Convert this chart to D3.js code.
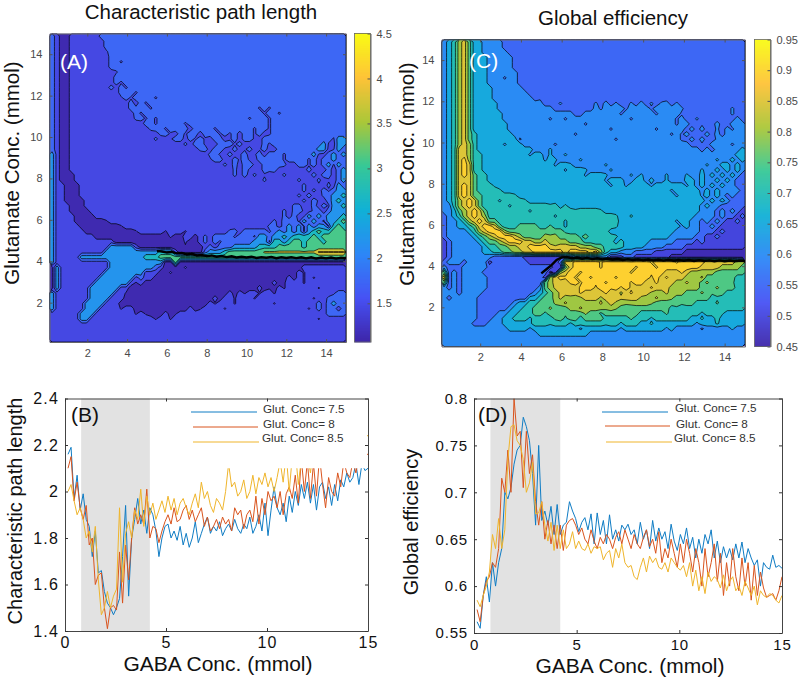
<!DOCTYPE html>
<html><head><meta charset="utf-8">
<script src="https://d3js.org/d3.v7.min.js"></script>
<style>html,body{margin:0;padding:0;background:#fff}svg{display:block}text{font-family:"Liberation Sans",Arial,sans-serif}</style>
</head><body><svg id="c" width="800" height="681"></svg>
<script>
// ---------- data ----------
const gridTicks = [2,4,6,8,10,12,14];
const pathBarTicks = [1.5,2,2.5,3,3.5,4,4.5];
const effBarTicks = [0.45,0.5,0.55,0.6,0.65,0.7,0.75,0.8,0.85,0.9,0.95];
const pathLevels = [1.12,1.45,1.75,2.2,2.7,3.1,3.75,4.0];
const pathSpecks = [1.55,1.68,1.25,1.33,2.05,3.5,3.95];               // codes a..g
const effLevels = [0.46,0.5,0.55,0.6,0.65,0.7,0.75,0.8,0.85,0.895];
const effSpecks = [.565,.585,.615,.635,.665,.685,.765,.785,.815,.835,.865,.88,.51,.54,.715,.735]; // codes a..p
const parulaStops = ["#3e26a8","#4752f4","#2d87f7","#11b1d6","#37c897","#abc739","#fec338","#f9fb15"];
// rows from Glutamate 15 down to 0.1, columns GABA 0.1 to 15, digits index the levels, letters the specks
const pathGrid = [
"2100111111 2","2100111111 12","2100111111 12","2100111111 1a2","2100111111 112","2100111111 1122a2",
"2100111111 11222","2100111111 111a2","2100111111 1112","2100111111 1112a2","2100111111 11212a2","2100111111 1111222a2",
"2100111111 1111a2a222 2a2",
"2100111111 111111212a 2222222222 2222222222 222",
"2100111111 1111112b22 a222222222 2222222222 22a2a22",
"2100111111 11111112a2 2222222222 2222222222 222a22a2",
"2100111111 1111111b2a 2a22222222 2222222222 a222a222",
"2100111111 1111111112 2a22222a22 2222222222 2222a2",
"2100111111 1111111111 b22a222212 222a222222 2a22a22",
"2100111111 1111111111 11b2a12a22 1222a2a212 2a21a22",
"2100111111 1111111111 1b11a2212a 2a1221a212 2a12222222 2222222a33",
"2100111111 1111111111 1111111b12 2a11222a21 1a12a22222 222223a133",
"2100111111 1111111111 1111111111 b2122a121a 21a2112222 2222331a32",
"3100111111 1111111111 1111111111 11b2a121a2 1a21222a22 2223a12323",
"3100111111 1111111111 1111111111 11a22112a2 a122222a22 22a2122322",
"3100111111 1111111111 1111111111 11111b1212 2a12222b11 22a2123a32",
"3100111111 1111111111 1111111111 1111111b12 a112b21111 1121a12123",
"3100011111 1111111111 1111111111 1111111b12 1b1a111b11 1a12122123",
"3100011111 1111111111 1111111111 1111111111 111b111111 b1a1b1a123",
"3110001111 1111111111 1111111111 1111111111 1111111111 1b11a1b132",
"3110001111 1111111111 1111111111 1111111111 1111111111 1b1b12a233",
"3110001111 1111111111 1111111111 1111111111 1111111111 b1211b2334",
"3110000111 1111111111 1111111111 1111111111 1111111111 1b12a12343",
"3111000111 1111111111 1111111111 1111111111 111111111b b11212a334",
"3111000011 1111111111 1111111111 1111111111 1111111b1b 2a1b212333",
"3111100001 1111111111 1111111111 1111111111 1111111b12 1a32323334",
"3111100000 0c11111111 1111111111 1111111111 11111b1222 a3232a3345",
"3111110000 0000c11111 1111111111 1111111111 1111b21232 3a3233a454",
"3111111000 0000000c11 111c111c11 111111b212 2222a23232 3a34544555",
"3111111110 0000000000 0000d00110 1b12222a22 2a33233434 4445455555",
"3111111111 1110000000 0000000d00 1b12a22222 2333a44345 5455545555",
"3111111111 1133333100 0000000c00 0121222333 3344445555 5455555555",
"3111111111 1333333333 3344410000 0233345555 555fffffff ffffgggggg",
"3111113333 3333333334 4455555555 5555555555 5555555555 5555555555",
"3111111111 1133333333 3330050000 0000000000 0000000000 0000000000",
"0311111111 1133333333 3210000d00 0000000000 0000000000 0111111111",
"0311111111 1333333331 1100d00000 0000000000 0000000000 1c11111111",
"0311111111 3333333121 10c0000000 0000000000 000000c010 1c1c111111",
"0311111113 3333331c10 0000000000 0000000000 0000010c11 1c11111111",
"0311111133 3333110c00 0000000000 0000000000 0010c01c11 1111c11111",
"3111111133 33311c0000 0000000000 000000101c 11c11c1111 1111111a22",
"3111111133 3311100000 0000000000 0c01011c11 1c11111111 111c11b222",
"3111111333 3111000000 0000000000 001c111c11 11111c1111 1111212322",
"3111111333 1111c11000 0000000010 c1111c1111 1111111111 11c1212212",
"1111113331 1111111c1c 00010c1111 1111111111 1111111111 1111112222",
"1111113311 1111111111 1c11c11111 1111111111 1111111111 1111c11111",
"1111111111 1","1111111111 1","1111111111 1","1111111111 1"
];
const effGrid = [
"345786 44 3333 2","345786 44 3333 2","345786 44 33333 2a2","345786 444 33333 2","345786 444 33333 2a2","345786 444 33333 2",
"345786 444 333333 2","345786 444 333a33 2a2","345786 444 333333 2","345786 4444 333333 2","345786 4444 3333333 2a2","345786 4444 33333333 2a2",
"3457864444 4333333333 222b222222 b232b22b23 2b2b32b222 2222222222",
"3457864444 4333333333 3322222222 3a3333a333 3a33333b22 2222222b22",
"3457864444 4433333333 3333332233 33333a3333 33a3333a22 2222222b22",
"3457864444 4433333333 3a33a33333 3333333a33 333333a322 b222222232",
"3457864444 4443333333 33333333a3 3333333333 333333a332 2a22322333",
"3457864444 4443333333 3333333333 333a333333 33a3333323 2322b23a33",
"3457865444 4444333333 333333a333 3333333333 33333a3a32 2232323333",
"3457865444 4d444a3333 3333333333 3333a33333 3333333a23 2322b33333",
"3457875444 44c4443333 33a3333333 3333333333 3333333332 2a23333a33",
"3458875444 4444d44433 3d33333333 3333333333 3333333333 3232333334",
"3458875544 4444444c44 3d33d33333 3333333333 3333333333 3333333344",
"3458975544 4444444444 c4d3333d33 3333333333 3333333333 3333d33434",
"3458985544 4444444444 44c44d3333 33d3333333 3333333333 33d3344343",
"3458985544 4444444444 4444c444d3 333d333333 3333333333 3d33434343",
"3458986554 4444444444 44444444c4 44d3333d3d 3333d333d3 3434343432",
"3458886554 4444444444 4444444444 44c4443344 3433d33344 3433434322",
"3458986555 e444444444 4444444444 444c44c444 4c444444c4 3434343322",
"3458986555 5f44444444 4444444444 4444444444 44444c4444 4343433c32",
"3458986655 5555f44444 4444444444 4444444444 444444c444 4c43432322",
"3457898655 5e5555f444 4444444444 4444444444 4444444444 4434343222",
"3357898655 555e555555 5f54f44444 4444444444 4444444444 4343322222",
"3346789865 5555555e55 555555f555 5f44444444 4444444444 4333232321",
"2345789875 5555555555 55e5555555 5555f44f44 4444444444 3333232212",
"2334578986 6555555555 5555e55555 55f5544444 444444c443 3232321121",
"2334456899 8655566665 5p55e55555 5555f44444 4444444c43 3223211111",
"2333345789 9976666666 6666o55555 5f54444444 4444443333 3222121111",
"2333334567 8999876666 7h76666o65 5555f44444 4444433333 2211211111",
"1233333456 6789998877 87h7766655 55f5454444 4333332222 1211111111",
"1233333345 5667788999 98j8888777 6655554444 3333222211 1111111111",
"1233333344 5566778899 9999899998 9754433322 2211111100 0000000000",
"1233333333 2222221111 1111223333 3331112211 1111100000 0000000000",
"2333233331 2222222111 1112889999 9k99999l99 9k9999k999 9988888877",
"3222333332 2222222222 2211689999 9k99l999k9 99k9999l99 9888877776",
"6232333322 2222222222 2017899k99 99l9999k99 9l99888l87 7777666666",
"8232333332 2222222222 1789l9k99k 9999k9999l 9k98l88877 7j66666655",
"6232333332 2222222222 67888l9k99 l9k9999k99 88l88877j7 76h6666p55",
"3232333332 2222222223 67j8k88l99 k99l9k9k88 8l88877777 7666h66655",
"3332333322 2222222234 567j8k8l88 88l88i8l88 8i77j77766 6h6p665555",
"3233333222 2222222445 667j777i88 8i888j888i 77j77h6666 6p65o55555",
"3333333222 2222344556 66h7j77777 7j78i7h777 7h66666p66 5o55p55555",
"3333333222 2223445566 6h66677j77 77h7h66p66 6p6665o555 5555f55555",
"3333333222 2334455566 o666p666h6 6o66p66665 5o55p55555 5e555f4444",
"3333333222 3344555e55 55p6o66566 6655o55p55 5e55555554 4f4454e444",
"3333332223 3344444e55 5f555e5555 55f55e5554 4f44444444 c444f44444",
"3333333333 3334444c44 4d44444c44 44444c4444 4444c43333 3a33333d33",
"3333333333 3333333334 4444444443 3333333333 3",
"3","3"
];
// the tight black bundle of contours along the sharp front (GABA every 0.25 from the start value)
const pathRidgeStart = 5.5;
const pathRidge = [4.50,4.47,4.42,4.45,4.38,4.40,4.33,4.36,4.28,4.30,4.25,4.28,4.22,4.26,4.20,4.24,4.18,4.22,4.18,4.22,4.16,4.20,4.17,4.21,4.15,4.20,4.16,4.20,4.15,4.19,4.14,4.19,4.13,4.18,4.14,4.18,4.13,4.17,4.15];
const effRidgeStart = 5;
const effRidge = [3.65,3.85,4.05,4.30,4.42,4.44,4.38,4.42,4.36,4.40,4.34,4.38,4.33,4.37,4.32,4.36,4.30,4.34,4.30,4.33,4.28,4.32,4.28,4.31,4.27,4.31,4.26,4.30,4.26,4.30,4.25,4.29,4.25,4.28,4.24,4.28,4.24,4.27,4.24,4.27,4.25];
const pathBlue = [2.16,2.19,1.97,2.07,1.92,1.99,1.88,1.85,1.72,1.83,1.65,1.66,1.57,1.52,1.50,1.47,1.50,1.54,1.72,1.94,1.55,1.80,1.88,1.97,1.86,1.92,1.82,1.93,1.90,1.83,1.72,1.80,1.85,1.86,1.80,1.83,1.79,1.85,1.77,1.82,1.76,1.80,1.87,1.78,1.82,1.86,1.89,1.82,1.85,1.83,1.87,1.81,1.84,1.86,1.83,1.88,1.84,1.82,1.86,1.84,1.89,1.82,1.85,1.90,1.83,1.95,1.81,1.92,2.02,1.93,1.90,1.95,1.87,1.98,1.91,2.00,1.94,2.03,1.97,2.04,1.95,2.03,1.92,2.02,2.04,1.97,2.02,1.94,2.03,1.96,2.05,2.02,2.08,2.04,2.06,2.12,2.03,2.12,2.09,2.10];
const pathRed = [2.10,2.15,1.96,2.04,1.93,1.88,1.94,1.77,1.80,1.60,1.64,1.65,1.50,1.41,1.50,1.51,1.49,1.74,1.52,1.77,1.62,1.80,1.93,1.86,1.90,1.86,2.01,1.80,1.85,1.84,1.78,1.83,1.87,1.90,1.86,1.93,1.87,1.88,1.92,1.94,1.88,1.92,1.87,1.90,1.93,1.85,1.89,1.83,1.85,1.88,1.84,1.89,1.86,1.88,1.83,1.93,1.90,1.92,1.84,1.90,1.92,1.87,1.98,1.86,1.97,1.90,2.00,1.96,1.98,1.93,2.00,1.90,1.99,2.02,1.97,2.07,1.95,2.14,2.00,2.13,1.97,2.12,1.98,2.15,2.03,1.93,2.06,2.00,1.98,2.08,2.02,2.13,2.08,2.06,2.13,2.08,2.15,2.12,2.16,2.16];
const pathYellow = [2.00,2.03,1.96,1.90,1.93,1.88,1.80,1.83,1.74,1.85,1.62,1.47,1.50,1.57,1.50,1.55,1.58,1.93,1.61,1.82,1.87,1.80,1.92,1.88,2.01,1.85,1.98,1.90,1.95,1.88,1.92,1.96,1.91,1.98,1.92,1.97,1.90,1.95,1.97,1.93,1.90,1.95,1.99,1.93,2.04,1.97,2.00,1.94,1.91,1.97,1.95,1.92,2.00,2.12,2.02,2.04,1.98,2.00,2.05,1.97,2.00,2.07,1.99,2.06,2.03,2.08,2.02,2.06,2.00,2.06,2.13,2.04,2.16,2.00,2.15,2.18,2.03,2.14,2.20,2.16,2.08,2.18,2.22,2.16,2.20,2.18,2.24,2.18,2.22,2.20,2.24,2.18,2.26,2.20,2.24,2.22,2.26,2.22,2.24,2.24];
const effBlue = [.562,.555,.590,.610,.583,.625,.600,.625,.640,.700,.693,.705,.730,.745,.750,.780,.770,.755,.720,.665,.750,.670,.680,.665,.685,.655,.687,.655,.665,.668,.690,.680,.672,.658,.668,.673,.660,.677,.645,.678,.655,.670,.645,.676,.650,.660,.648,.665,.660,.666,.655,.660,.645,.668,.650,.660,.640,.670,.648,.662,.650,.658,.640,.666,.648,.638,.655,.645,.662,.640,.652,.630,.650,.635,.655,.645,.660,.630,.648,.625,.642,.630,.640,.628,.645,.630,.647,.625,.640,.630,.622,.628,.600,.625,.620,.618,.633,.620,.622,.619];
const effRed = [.575,.562,.590,.605,.610,.625,.620,.640,.715,.700,.745,.700,.800,.760,.765,.705,.765,.720,.740,.690,.665,.690,.650,.670,.645,.665,.640,.665,.638,.665,.670,.672,.665,.655,.662,.650,.645,.660,.648,.640,.652,.645,.655,.650,.640,.652,.658,.645,.660,.650,.640,.655,.645,.640,.652,.660,.642,.650,.635,.658,.625,.640,.630,.650,.635,.620,.645,.625,.650,.635,.615,.640,.625,.600,.640,.610,.625,.645,.605,.635,.590,.625,.600,.640,.610,.595,.630,.600,.625,.585,.622,.590,.615,.598,.588,.590,.592,.585,.595,.610];
const effYellow = [.585,.578,.590,.600,.615,.655,.640,.672,.640,.660,.735,.770,.772,.755,.750,.735,.700,.710,.732,.677,.678,.690,.665,.648,.668,.638,.665,.640,.660,.640,.645,.658,.640,.648,.640,.638,.645,.635,.642,.640,.642,.628,.635,.638,.620,.640,.630,.645,.625,.620,.622,.610,.607,.620,.630,.615,.632,.625,.630,.620,.618,.625,.615,.630,.625,.620,.617,.622,.610,.625,.600,.617,.595,.610,.592,.615,.605,.610,.607,.598,.612,.595,.605,.610,.595,.600,.590,.605,.598,.590,.600,.580,.595,.590,.588,.592,.590,.585,.582,.590];
const lineColors = ["#0f7cc4","#d9541e","#efb52c"];
const legendNames = ["Glut. Conc= 7.5","Glut. Conc= 8","Glut. Conc= 8.5"];

// ---------- drawing ----------
const svg = d3.select("#c");
const defs = svg.append("defs");
let clipId = 0;
const parula = d3.scaleLinear().domain(d3.range(8).map(i=>i/7)).range(parulaStops).interpolate(d3.interpolateRgb);

function heat(o){
  const N=60;
  const x=d3.scaleLinear([0.1,15],[o.x0,o.x1]), y=d3.scaleLinear([0.1,15],[o.y1,o.y0]);
  const gx=d3.scaleLinear([0,N],[0.1,15]), gy=d3.scaleLinear([0,N],[15,0.1]);
  const col=v=>parula((v-o.dom[0])/(o.dom[1]-o.dom[0]));
  const rows=o.grid.map(r=>{r=r.replace(/ /g,"");return r.padEnd(N,r[r.length-1]).slice(0,N);});
  while(rows.length<N) rows.push(rows[rows.length-1]);
  const vals=[]; rows.slice(0,N).forEach(r=>{for(const ch of r){const c=parseInt(ch,36);vals.push(c<10?o.levels[c]:o.specks[c-10]);}});
  const thr=o.levels.slice(1).map((v,i)=>(v+o.levels[i])/2);
  const id="clip"+(clipId++);
  defs.append("clipPath").attr("id",id).append("rect").attr("x",o.x0).attr("y",o.y0).attr("width",o.x1-o.x0).attr("height",o.y1-o.y0);
  const g=svg.append("g").attr("clip-path",`url(#${id})`);
  g.append("rect").attr("x",o.x0).attr("y",o.y0).attr("width",o.x1-o.x0).attr("height",o.y1-o.y0).attr("fill",col(o.levels[0]));
  const path=d3.geoPath(d3.geoTransform({point(a,b){this.stream.point(x(gx(a)),y(gy(b)));}}));
  g.selectAll("path.c").data(d3.contours().size([N,N]).thresholds(thr)(vals)).join("path").attr("class","c")
    .attr("d",path).attr("fill",(d,i)=>col(o.levels[i+1])).attr("stroke","#000").attr("stroke-width",0.7);
  const ridgeLine=d3.line().x((d,i)=>x(o.ridgeStart+i*0.25)).y(d=>y(d));
  g.append("path").attr("d",ridgeLine(o.ridge)).attr("fill","none").attr("stroke","#000").attr("stroke-width",2.4);
  const ax=(gen,tr)=>{const a=svg.append("g").attr("transform",tr).call(gen);
    a.selectAll("text").attr("font-size",11).attr("fill","#4a4a4a").style("font-family",'"Liberation Sans",Arial,sans-serif');
    a.selectAll("line").attr("stroke","#555");a.select(".domain").attr("stroke","#666");return a;};
  ax(d3.axisBottom(x).tickValues(gridTicks).tickSize(-3).tickPadding(7).tickSizeOuter(0),`translate(0,${o.y1})`);
  ax(d3.axisLeft(y).tickValues(gridTicks).tickSize(-3).tickPadding(7).tickSizeOuter(0),`translate(${o.x0},0)`);
  ax(d3.axisTop(x).tickValues(gridTicks).tickSize(-3).tickFormat("").tickSizeOuter(0),`translate(0,${o.y0})`);
  ax(d3.axisRight(y).tickValues(gridTicks).tickSize(-3).tickFormat("").tickSizeOuter(0),`translate(${o.x1},0)`);
  const b=d3.scaleLinear(o.dom,[o.y1,o.y0]);
  const steps=d3.range(0,o.y1-o.y0,1);
  svg.append("g").selectAll("rect").data(steps).join("rect").attr("x",o.bx0).attr("width",o.bx1-o.bx0)
    .attr("y",d=>o.y1-d-1).attr("height",1.4).attr("fill",d=>col(b.invert(o.y1-d-0.5)));
  ax(d3.axisRight(b).tickValues(o.barTicks).tickSize(-3).tickPadding(6).tickFormat(d=>String(d)).tickSizeOuter(0),`translate(${o.bx1},0)`);
  svg.append("rect").attr("x",o.bx0).attr("y",o.y0).attr("width",o.bx1-o.bx0).attr("height",o.y1-o.y0).attr("fill","none").attr("stroke","#666").attr("stroke-width",0.8);
  svg.append("text").attr("x",o.lx).attr("y",o.ly).attr("font-size",21).attr("fill","#fff").text(o.letter);
}

function lines(o){
  const x=d3.scaleLinear([0,15],[o.x0,o.x1]), y=d3.scaleLinear(o.yd,[o.y1,o.y0]);
  svg.append("rect").attr("x",x(o.band[0])).attr("width",x(o.band[1])-x(o.band[0])).attr("y",o.y0).attr("height",o.y1-o.y0).attr("fill","#e2e2e2");
  const id="clip"+(clipId++);
  defs.append("clipPath").attr("id",id).append("rect").attr("x",o.x0).attr("y",o.y0).attr("width",o.x1-o.x0).attr("height",o.y1-o.y0);
  const g=svg.append("g").attr("clip-path",`url(#${id})`);
  o.series.forEach((s,k)=>{
    const ln=d3.line().x((d,i)=>x((i+1)*15/s.length)).y(d=>y(d));
    g.append("path").attr("d",ln(s)).attr("fill","none").attr("stroke",lineColors[k]).attr("stroke-width",1);
  });
  if(o.mask) svg.append("rect").attr("x",x(o.mask[0])).attr("width",x(o.mask[1])-x(o.mask[0])).attr("y",o.y0).attr("height",y(o.mask[2])-o.y0).attr("fill","#fff");
  const st=(a)=>{a.selectAll("line").attr("stroke","#333");a.select(".domain").attr("stroke","#444");a.selectAll("text").attr("fill","#111").attr("font-size",o.fs).style("letter-spacing",o.ls).style("font-family",'"Liberation Sans",Arial,sans-serif');};
  svg.append("g").attr("transform",`translate(0,${o.y1})`).call(d3.axisBottom(x).tickValues([0,5,10,15]).tickFormat(d3.format("d")).tickSize(-3).tickPadding(6).tickSizeOuter(0)).call(st);
  svg.append("g").attr("transform",`translate(${o.x0},0)`).call(d3.axisLeft(y).tickValues(o.yt).tickFormat(o.yf).tickSize(-3).tickPadding(6).tickSizeOuter(0)).call(st);
  svg.append("g").attr("transform",`translate(0,${o.y0})`).call(d3.axisTop(x).tickValues([0,5,10,15]).tickFormat("").tickSize(-3).tickSizeOuter(0)).call(st);
  svg.append("g").attr("transform",`translate(${o.x1},0)`).call(d3.axisRight(y).tickValues(o.yt).tickFormat("").tickSize(-3).tickSizeOuter(0)).call(st);
  o.legend.forEach((l,k)=>{
    svg.append("line").attr("x1",l[0]).attr("x2",l[1]).attr("y1",l[2]).attr("y2",l[2]).attr("stroke",lineColors[k]).attr("stroke-width",1);
    svg.append("text").attr("x",l[3]).attr("y",l[4]).attr("font-size",11.7).attr("fill","#333").attr("dominant-baseline","middle").text(legendNames[k]);
  });
  svg.append("text").attr("x",o.lx).attr("y",o.ly).attr("font-size",21).attr("fill","#111").text(o.letter);
}

function label(t,x,y,size,rot){
  const e=svg.append("text").attr("font-size",size).attr("fill","#111").attr("text-anchor","middle").attr("dominant-baseline","middle").text(t);
  e.attr("transform",`translate(${x},${y})${rot?" rotate(-90)":""}`);
}

heat({x0:49.5,x1:346,y0:33.5,y1:342,bx0:354.5,bx1:370.5,dom:[1.07,4.5],levels:pathLevels,specks:pathSpecks,grid:pathGrid,ridge:pathRidge,ridgeStart:pathRidgeStart,barTicks:pathBarTicks,letter:"(A)",lx:60,ly:69});
heat({x0:441.5,x1:745,y0:39.5,y1:346.5,bx0:754.5,bx1:770.5,dom:[0.45,0.95],levels:effLevels,specks:effSpecks,grid:effGrid,ridge:effRidge,ridgeStart:effRidgeStart,barTicks:effBarTicks,letter:"(C)",lx:469,ly:68});
lines({x0:65,x1:368,y0:398.5,y1:631,yd:[1.4,2.4],yt:[1.4,1.6,1.8,2,2.2,2.4],yf:d=>d3.format("~g")(d),band:[0.8,4.2],ls:"1.2px",fs:16,mask:[4.3,14.95,2.1],
  series:[pathBlue,pathRed,pathYellow],legend:[[191,257,412,263,410],[193,258,427,263,425],[193,259,442,262,439]],letter:"(B)",lx:71,ly:422});
lines({x0:474,x1:782,y0:398.5,y1:633,yd:[0.55,0.8],yt:[0.55,0.6,0.65,0.7,0.75,0.8],yf:d=>d3.format("~g")(d),band:[0.8,4.2],ls:"0.8px",fs:15,
  series:[effBlue,effRed,effYellow],legend:[[602,668,412,675,409],[605,670,426,676,425],[606,672,442,674,439]],letter:"(D)",lx:478,ly:422});

label("Characteristic path length",201,14,20.5);
label("Global efficiency",613,20,20.5);
label("Glutamate Conc. (mmol)",14,173,20.5,true);
label("Glutamate Conc. (mmol)",409,174,20.5,true);
label("Characteristic path length",17,511,20,true);
label("Global efficiency",413,522,20,true);
label("GABA Conc. (mmol)",218,665,21);
label("GABA Conc. (mmol)",630,667,21);
</script></body></html>
